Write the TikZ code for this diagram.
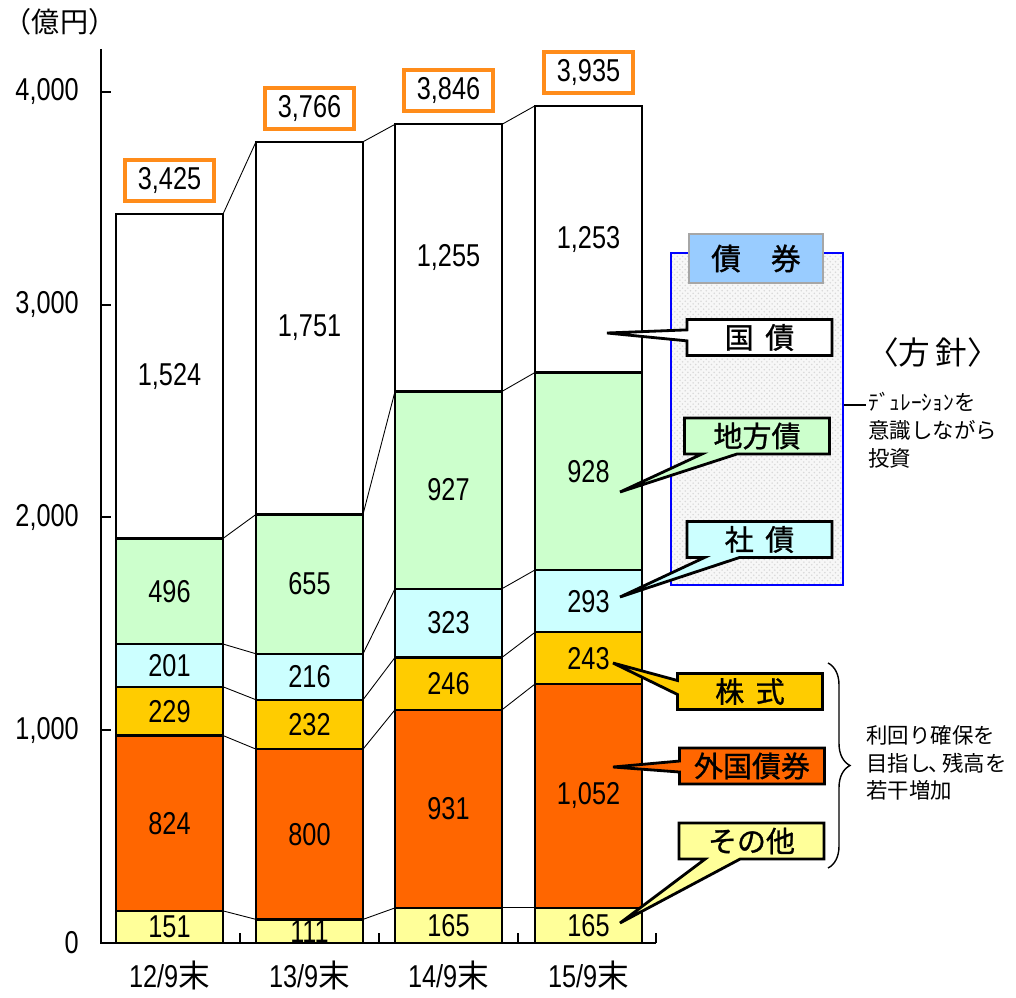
\documentclass[tikz,border=0pt]{standalone}
\usepackage{fontspec}
\setmainfont{Liberation Sans}
\newfontfamily\numfont[FakeStretch=0.8]{Liberation Sans}
\newfontfamily\jpfont{Noto Sans CJK JP}
\newfontfamily\jpbold[FakeBold=1]{Noto Sans CJK JP}
\usepackage{tikz}
\usetikzlibrary{shapes.callouts, positioning, calc, patterns, decorations.pathreplacing}
\definecolor{PaleYellow}{HTML}{FFFF99}
\definecolor{DeepOrange}{HTML}{FF6600}
\definecolor{Gold}{HTML}{FFCC00}
\definecolor{PaleCyan}{HTML}{CCFFFF}
\definecolor{PaleGreen}{HTML}{CCFFCC}
\definecolor{TotalOrange}{HTML}{FF8C1A}
\definecolor{SkyBlue}{HTML}{99CCFF}

\begin{document}
\begin{tikzpicture}[x=0.02cm, y=-0.02cm,
    seg/.style={draw=black, line width=1.3pt},
    num/.style={font=\numfont\fontsize{18}{18}\selectfont},
    total/.style={draw=TotalOrange, line width=2.2pt, fill=white, minimum width=1.78cm,
                  minimum height=0.82cm, inner sep=0pt, font=\numfont\fontsize{18}{18}\selectfont},
    link/.style={line width=0.5pt},
    axis/.style={line width=1.1pt},
    callbox/.style={rectangle callout, draw=black, line width=1.6pt, minimum width=2.9cm,
                    minimum height=0.72cm, inner sep=0pt, callout pointer width=0.3cm,
                    font=\jpbold\fontsize{16.5}{16.5}\selectfont},
    note/.style={align=left, anchor=north west, inner sep=0pt,
                 font=\jpfont\fontsize{12.2}{15.8}\selectfont}
]
    \useasboundingbox (0,0) rectangle (1016,997);

    % Unit label
    \node[font=\jpfont\fontsize{16}{16}\selectfont] (unit) at (60,22) {（億円）};

    \begin{scope}[shift={(0,943)}, y=0.00425cm]
        % Stacked bars
        \foreach \n/\k/\x/\lo/\hi/\col/\val in {
            1/1/116/0/151/PaleYellow/151, 1/2/116/151/975/DeepOrange/824,
            1/3/116/975/1204/Gold/229, 1/4/116/1204/1405/PaleCyan/201,
            1/5/116/1405/1901/PaleGreen/496, 1/6/116/1901/3425/white/{1,524},
            2/1/256/0/111/PaleYellow/111, 2/2/256/111/911/DeepOrange/800,
            2/3/256/911/1143/Gold/232, 2/4/256/1143/1359/PaleCyan/216,
            2/5/256/1359/2014/PaleGreen/655, 2/6/256/2014/3765/white/{1,751},
            3/1/395/0/165/PaleYellow/165, 3/2/395/165/1096/DeepOrange/931,
            3/3/395/1096/1342/Gold/246, 3/4/395/1342/1665/PaleCyan/323,
            3/5/395/1665/2592/PaleGreen/927, 3/6/395/2592/3847/white/{1,255},
            4/1/535/0/165/PaleYellow/165, 4/2/535/165/1217/DeepOrange/{1,052},
            4/3/535/1217/1460/Gold/243, 4/4/535/1460/1753/PaleCyan/293,
            4/5/535/1753/2681/PaleGreen/928, 4/6/535/2681/3934/white/{1,253}}{
            \filldraw[seg, fill=\col] (\x,\lo) rectangle (\x+107,\hi);
            \node[num] (v\n-\k) at (\x+53.5,{(\lo+\hi)/2}) {\val};
            \coordinate (L\n-\k) at (\x,\hi);
            \coordinate (R\n-\k) at (\x+107,\hi);
        }

        % Links between bars
        \foreach \n [evaluate=\n as \m using int(\n+1)] in {1,2,3}
            \foreach \k in {1,...,6}
                \draw[link] (R\n-\k) -- (L\m-\k);

        % Totals
        \foreach \n/\lab in {1/{3,425}, 2/{3,766}, 3/{3,846}, 4/{3,935}}{
            \coordinate (top\n) at ($(L\n-6)!0.5!(R\n-6)$);
            \node[total, above=0.22cm of top\n] (t\n) {\lab};
        }

        % Axes
        \draw[axis] (101,4202) -- (101,0) -- (656,0);
        \foreach \v/\lab in {0/0, 1000/{1,000}, 2000/{2,000}, 3000/{3,000}, 4000/{4,000}}{
            \draw[axis] (101,\v) -- (111,\v);
            \node[num, anchor=east] (y\v) at (85,\v) {\lab};
        }
        \foreach \x in {240,379,518,656}
            \draw[axis] (\x,0) -- (\x,47);
        \foreach \n/\x/\lab in {1/116/12, 2/256/13, 3/395/14, 4/535/15}
            \node[num] (c\n) at (\x+53.5,-152) {\lab/9{\jpfont 末}};
    \end{scope}

    % Bond frame
    \node[draw=blue, line width=1.2pt, preaction={fill=gray!6}, pattern=crosshatch dots,
          pattern color=gray!30, minimum width=3.44cm, minimum height=6.64cm] (frame) at (757,419) {};
    \node[draw=gray!70, line width=1.2pt, fill=SkyBlue, minimum width=2.68cm, minimum height=0.98cm,
          font=\jpbold\fontsize{17}{17}\selectfont] (bondtitle) at (756,258.5) {債\quad 券};

    % Callouts
    \coordinate (pJgb) at (607,333);
    \coordinate (pMuni) at (620,492);
    \coordinate (pCorp) at (620,597);
    \coordinate (pStock) at (613,663);
    \coordinate (pFbond) at (613,767);
    \coordinate (pOther) at (620,923);
    \node[callbox, fill=white, callout pointer width=0.22cm, callout absolute pointer={(pJgb)}] (jgb) at (759.5,337.5) {国\hspace{0.4em}債};
    \node[callbox, fill=PaleGreen, callout pointer width=0.7cm, callout absolute pointer={(pMuni)}] (muni) at (757,436) {地方債};
    \node[callbox, fill=PaleCyan, callout pointer width=0.7cm, callout absolute pointer={(pCorp)}] (corp) at (759.5,539.5) {社\hspace{0.4em}債};
    \node[callbox, fill=Gold, callout pointer width=0.28cm, callout absolute pointer={(pStock)}] (stock) at (750,691.5) {株\hspace{0.4em}式};
    \node[callbox, fill=DeepOrange, callout pointer width=0.22cm, callout absolute pointer={(pFbond)}] (fbond) at (752,766) {外国債券};
    \node[callbox, fill=PaleYellow, callout pointer width=0.7cm, callout absolute pointer={(pOther)}] (other) at (751.5,841) {その他};

    % Policy notes
    \node[font=\jpfont\fontsize{18}{18}\selectfont] (policy) at (933,352) {〈方\,針〉};
    \node[note] (durnote) at (868,392) {ﾃﾞｭﾚｰｼｮﾝを\\意識しながら\\投資};
    \coordinate (durpt) at (866,405);
    \draw[line width=1.2pt] (frame.east |- durpt) -- (durpt);
    \draw[decorate, decoration={brace, amplitude=0.44cm}, line width=0.8pt] (828,663) -- (828,868);
    \node[note] (yieldnote) at (866,725) {利回り確保を\\目指し\kern-0.1em、\kern-0.35em 残高を\\若干増加};
\end{tikzpicture}
\end{document}
